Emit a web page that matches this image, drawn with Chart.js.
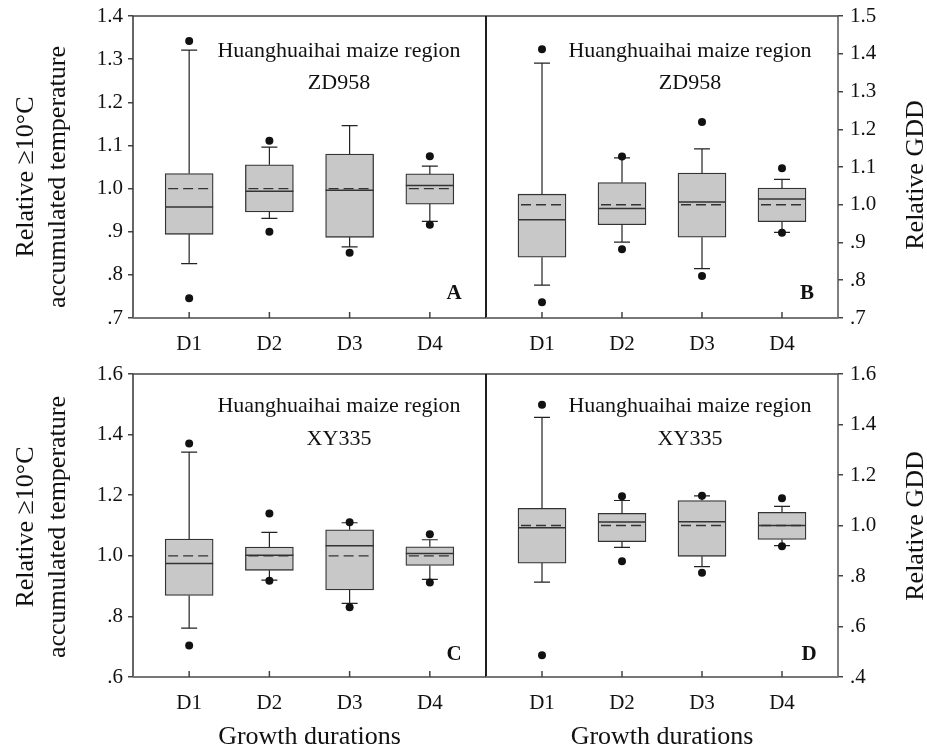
<!DOCTYPE html>
<html>
<head>
<meta charset="utf-8">
<script src="https://cdn.jsdelivr.net/npm/chart.js@4.4.1/dist/chart.umd.min.js"></script>
<style>
  html, body { margin: 0; padding: 0; background: #fff; }
  #wrap { position: relative; width: 927px; height: 754px; }
  #wrap canvas { position: absolute; left: 0; top: 0; }
</style>
</head>
<body>
<div id="wrap">
  <canvas id="panelA" width="927" height="754"></canvas>
  <canvas id="panelB" width="927" height="754"></canvas>
  <canvas id="panelC" width="927" height="754"></canvas>
  <canvas id="panelD" width="927" height="754"></canvas>
</div>
<script>
const durations = ["D1", "D2", "D3", "D4"];

// A: ZD958, relative >=10°C accumulated temperature
const aP5 = [0.746, 0.900, 0.851, 0.916];
const aP10 = [0.826, 0.931, 0.865, 0.924];
const aQ1 = [0.894, 0.946, 0.887, 0.964];
const aMedian = [0.957, 0.994, 0.996, 1.007];
const aMean = [1.0, 1.0, 1.0, 1.0];
const aQ3 = [1.035, 1.055, 1.080, 1.034];
const aP90 = [1.321, 1.096, 1.146, 1.052];
const aP95 = [1.342, 1.111, null, 1.075];
const aTicks = [0.7, 0.8, 0.9, 1.0, 1.1, 1.2, 1.3, 1.4];

// B: ZD958, relative GDD
const bP5 = [0.742, 0.882, 0.811, 0.926];
const bP10 = [0.787, 0.901, 0.831, 0.927];
const bQ1 = [0.861, 0.947, 0.914, 0.955];
const bMedian = [0.960, 0.990, 1.007, 1.015];
const bMean = [1.0, 1.0, 1.0, 1.0];
const bQ3 = [1.028, 1.059, 1.084, 1.044];
const bP90 = [1.375, 1.124, 1.148, 1.067];
const bP95 = [1.412, 1.128, 1.219, 1.097];
const bTicks = [0.7, 0.8, 0.9, 1.0, 1.1, 1.2, 1.3, 1.4, 1.5];

// C: XY335, relative >=10°C accumulated temperature
const cP5 = [0.704, 0.918, 0.830, 0.912];
const cP10 = [0.761, 0.920, 0.843, 0.922];
const cQ1 = [0.869, 0.952, 0.887, 0.968];
const cMedian = [0.975, 1.002, 1.033, 1.008];
const cMean = [1.0, 1.0, 1.0, 1.0];
const cQ3 = [1.055, 1.029, 1.086, 1.030];
const cP90 = [1.342, 1.077, 1.109, 1.053];
const cP95 = [1.371, 1.140, 1.111, 1.071];
const cTicks = [0.6, 0.8, 1.0, 1.2, 1.4, 1.6];

// D: XY335, relative GDD
const dP5 = [0.486, 0.858, 0.813, 0.918];
const dP10 = [0.776, 0.913, 0.837, 0.920];
const dQ1 = [0.851, 0.936, 0.878, 0.945];
const dMedian = [0.991, 1.014, 1.015, 1.000];
const dMean = [1.0, 1.0, 1.0, 1.0];
const dQ3 = [1.068, 1.048, 1.099, 1.052];
const dP90 = [1.428, 1.099, 1.117, 1.076];
const dP95 = [1.478, 1.116, 1.118, 1.108];
const dTicks = [0.4, 0.6, 0.8, 1.0, 1.2, 1.4, 1.6];

const W = 927;
const H = 754;
const FONT = "'Liberation Serif', 'Times New Roman', serif";
const TEXT = "#111";

function fmtTick(v) {
  const s = Number(v).toFixed(1);
  return v < 1 ? s.slice(1) : s;
}

function framePlugin(p) {
  return {
    id: "frame",
    beforeDatasetsDraw(chart) {
      const { ctx, chartArea: ca } = chart;
      const xs = chart.scales.x;
      ctx.save();
      ctx.lineCap = "butt";
      // top
      ctx.strokeStyle = "#444";
      ctx.lineWidth = 1.5;
      ctx.beginPath();
      ctx.moveTo(ca.left, ca.top);
      ctx.lineTo(ca.right, ca.top);
      ctx.stroke();
      // left / right sides
      ctx.strokeStyle = p.yPos === "left" ? "#333" : "#111";
      ctx.beginPath();
      ctx.moveTo(ca.left, ca.top);
      ctx.lineTo(ca.left, ca.bottom);
      ctx.stroke();
      ctx.strokeStyle = p.yPos === "left" ? "#111" : "#555";
      ctx.beginPath();
      ctx.moveTo(ca.right, ca.top);
      ctx.lineTo(ca.right, ca.bottom);
      ctx.stroke();
      // bottom axis
      ctx.strokeStyle = "#777";
      ctx.lineWidth = 2;
      ctx.beginPath();
      ctx.moveTo(ca.left, ca.bottom);
      ctx.lineTo(ca.right, ca.bottom);
      ctx.stroke();
      // inward x ticks
      ctx.strokeStyle = "#444";
      ctx.lineWidth = 1.5;
      durations.forEach((d, i) => {
        const x = xs.getPixelForValue(i + 1);
        ctx.beginPath();
        ctx.moveTo(x, ca.bottom);
        ctx.lineTo(x, ca.bottom - 6);
        ctx.stroke();
      });
      ctx.restore();
    },
  };
}

function boxLinesPlugin(p) {
  return {
    id: "boxLines",
    afterDatasetDraw(chart, args) {
      if (args.index !== 0) return;
      const { ctx } = chart;
      const ys = chart.scales.y;
      const bars = chart.getDatasetMeta(0).data;
      ctx.save();
      bars.forEach((bar, i) => {
        const x = bar.x;
        const half = bar.width / 2;
        const yQ1 = ys.getPixelForValue(p.q1[i]);
        const yQ3 = ys.getPixelForValue(p.q3[i]);
        const yLo = ys.getPixelForValue(p.p10[i]);
        const yHi = ys.getPixelForValue(p.p90[i]);
        ctx.strokeStyle = "#222";
        ctx.lineWidth = 1.2;
        ctx.setLineDash([]);
        ctx.beginPath();
        ctx.moveTo(x, yQ3);
        ctx.lineTo(x, yHi);
        ctx.moveTo(x - 8, yHi);
        ctx.lineTo(x + 8, yHi);
        ctx.moveTo(x, yQ1);
        ctx.lineTo(x, yLo);
        ctx.moveTo(x - 8, yLo);
        ctx.lineTo(x + 8, yLo);
        ctx.stroke();
        // median
        const yMed = ys.getPixelForValue(p.median[i]);
        ctx.strokeStyle = "#333";
        ctx.lineWidth = 1.5;
        ctx.beginPath();
        ctx.moveTo(x - half, yMed);
        ctx.lineTo(x + half, yMed);
        ctx.stroke();
        // mean
        const yMean = ys.getPixelForValue(p.mean[i]);
        ctx.strokeStyle = "#333";
        ctx.lineWidth = 1.3;
        ctx.setLineDash([10, 5]);
        ctx.beginPath();
        ctx.moveTo(x - half + 3, yMean);
        ctx.lineTo(x + half - 2, yMean);
        ctx.stroke();
      });
      ctx.restore();
    },
  };
}

function decorPlugin(p) {
  return {
    id: "decor",
    afterDraw(chart) {
      const { ctx } = chart;
      ctx.save();
      ctx.fillStyle = TEXT;
      ctx.textAlign = "center";
      ctx.textBaseline = "alphabetic";
      ctx.font = `22px ${FONT}`;
      ctx.fillText(p.region, p.noteX, p.noteY[0]);
      ctx.fillText(p.cultivar, p.noteX, p.noteY[1]);
      ctx.font = `bold 21px ${FONT}`;
      ctx.fillText(p.letter, p.letterPos[0], p.letterPos[1]);
      ctx.font = `26px ${FONT}`;
      p.yTitle.forEach((line, i) => {
        ctx.save();
        ctx.translate(p.yTitleX[i], p.yTitleY);
        ctx.rotate(-Math.PI / 2);
        ctx.fillText(line, 0, 0);
        ctx.restore();
      });
      ctx.restore();
    },
  };
}

function makeChart(p) {
  const isLeft = p.yPos === "left";
  const bottomRow = !!p.xTitle;
  const xHeight = bottomRow ? 76 : 40;
  const boxes = durations.map((d, i) => ({ x: i + 1, y: [p.q1[i], p.q3[i]] }));
  const outliers = [];
  durations.forEach((d, i) => {
    if (p.p5[i] != null) outliers.push({ x: i + 1, y: p.p5[i] });
    if (p.p95[i] != null) outliers.push({ x: i + 1, y: p.p95[i] });
  });

  return new Chart(document.getElementById(p.id), {
    type: "bar",
    data: {
      datasets: [
        {
          type: "bar",
          data: boxes,
          backgroundColor: "#c8c8c8",
          borderColor: "#333",
          borderWidth: 1.3,
          borderSkipped: false,
          barThickness: 48,
          order: 2,
        },
        {
          type: "scatter",
          data: outliers,
          pointRadius: 4,
          pointBackgroundColor: "#111",
          pointBorderWidth: 0,
          order: 1,
        },
      ],
    },
    options: {
      responsive: false,
      animation: false,
      events: [],
      layout: {
        padding: {
          top: p.area.top,
          left: isLeft ? 0 : p.area.left,
          right: isLeft ? W - p.area.right : 0,
          bottom: H - p.area.bottom - xHeight,
        },
      },
      plugins: { legend: { display: false }, tooltip: { enabled: false } },
      scales: {
        x: {
          type: "linear",
          position: "bottom",
          min: 0.3,
          max: 4.7,
          offset: false,
          grid: { display: false, drawTicks: false },
          border: { display: false },
          afterBuildTicks: (s) => { s.ticks = durations.map((d, i) => ({ value: i + 1 })); },
          afterFit: (s) => { s.height = xHeight; },
          ticks: {
            callback: (v) => durations[v - 1],
            font: { family: FONT, size: 21 },
            color: TEXT,
            padding: 14,
            maxRotation: 0,
            autoSkip: false,
          },
          title: {
            display: bottomRow,
            text: p.xTitle || "",
            font: { family: FONT, size: 26 },
            color: TEXT,
            padding: 0,
          },
        },
        y: {
          type: "linear",
          position: p.yPos,
          min: p.ticks[0],
          max: p.ticks[p.ticks.length - 1],
          beginAtZero: false,
          afterBuildTicks: (s) => { s.ticks = p.ticks.map((v) => ({ value: v })); },
          afterFit: (s) => { s.width = isLeft ? p.area.left : W - p.area.right; },
          grid: { display: true, drawOnChartArea: false, drawTicks: true, tickLength: 5, color: "#444", lineWidth: 1.5 },
          border: { display: false },
          ticks: {
            callback: (v) => fmtTick(v),
            font: { family: FONT, size: 21, lineHeight: 0.7 },
            color: TEXT,
            padding: isLeft ? 5 : 7,
          },
        },
      },
    },
    plugins: [framePlugin(p), boxLinesPlugin(p), decorPlugin(p)],
  });
}

const tempTitle = ["Relative \u226510\u00B0C", "accumulated temperature"];
const gddTitle = ["Relative GDD"];
const region = "Huanghuaihai maize region";

makeChart({
  id: "panelA", yPos: "left", area: { left: 133, top: 16, right: 486, bottom: 318 },
  p5: aP5, p10: aP10, q1: aQ1, median: aMedian, mean: aMean, q3: aQ3, p90: aP90, p95: aP95, ticks: aTicks,
  region, cultivar: "ZD958", noteX: 339, noteY: [57, 89], letter: "A", letterPos: [454, 299],
  yTitle: tempTitle, yTitleX: [33, 65], yTitleY: 177,
});
makeChart({
  id: "panelB", yPos: "right", area: { left: 486, top: 16, right: 838, bottom: 318 },
  p5: bP5, p10: bP10, q1: bQ1, median: bMedian, mean: bMean, q3: bQ3, p90: bP90, p95: bP95, ticks: bTicks,
  region, cultivar: "ZD958", noteX: 690, noteY: [57, 89], letter: "B", letterPos: [807, 299],
  yTitle: gddTitle, yTitleX: [923], yTitleY: 175,
});
makeChart({
  id: "panelC", yPos: "left", area: { left: 133, top: 374, right: 486, bottom: 677 },
  p5: cP5, p10: cP10, q1: cQ1, median: cMedian, mean: cMean, q3: cQ3, p90: cP90, p95: cP95, ticks: cTicks,
  region, cultivar: "XY335", noteX: 339, noteY: [412, 445], letter: "C", letterPos: [454, 660],
  yTitle: tempTitle, yTitleX: [33, 65], yTitleY: 527, xTitle: "Growth durations",
});
makeChart({
  id: "panelD", yPos: "right", area: { left: 486, top: 374, right: 838, bottom: 677 },
  p5: dP5, p10: dP10, q1: dQ1, median: dMedian, mean: dMean, q3: dQ3, p90: dP90, p95: dP95, ticks: dTicks,
  region, cultivar: "XY335", noteX: 690, noteY: [412, 445], letter: "D", letterPos: [809, 660],
  yTitle: gddTitle, yTitleX: [923], yTitleY: 526, xTitle: "Growth durations",
});
</script>
</body>
</html>
